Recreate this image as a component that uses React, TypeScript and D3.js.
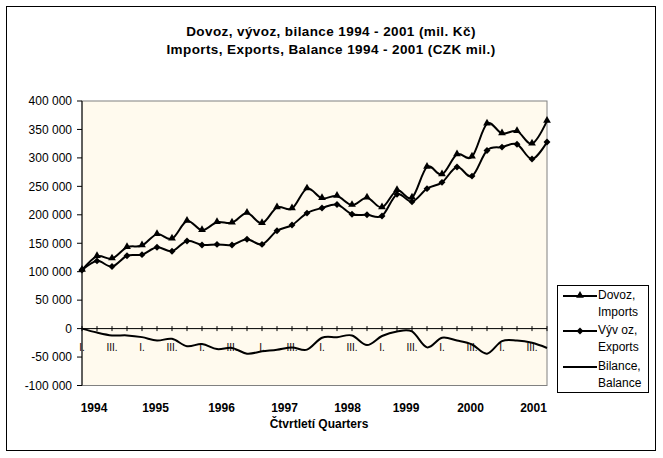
import * as d3 from 'd3';

// quarterly values, CZK mil. (1994 Q1 .. 2001 Q4)
const years = [1994, 1995, 1996, 1997, 1998, 1999, 2000, 2001];
const quarterNames = ['I.', 'II.', 'III.', 'IV.'];

const imports = [
  103000, 127000, 123000, 143000, 146000, 166000, 158000, 189000,
  173000, 187000, 186000, 203000, 185000, 213000, 211000, 246000,
  229000, 233000, 217000, 230000, 213000, 243000, 230000, 284000,
  271000, 306000, 302000, 360000, 343000, 347000, 325000, 365000,
];
const exports = [
  103000, 119000, 109000, 128000, 130000, 143000, 136000, 154000,
  147000, 148000, 147000, 157000, 148000, 172000, 182000, 203000,
  212000, 218000, 201000, 200000, 198000, 236000, 223000, 246000,
  257000, 284000, 268000, 313000, 319000, 324000, 298000, 328000,
];
const balance = [
  0, -7000, -12000, -12000, -15000, -21000, -18000, -31000,
  -27000, -36000, -34000, -44000, -40000, -37000, -33000, -37000,
  -16000, -15000, -12000, -29000, -13000, -5000, -5000, -33000,
  -16000, -21000, -28000, -44000, -22000, -21000, -25000, -34000,
];

const yTicks = [400000, 350000, 300000, 250000, 200000, 150000, 100000, 50000, 0, -50000, -100000];
// year captions were hand placed text boxes; position given in quarter index
const yearLabelAt = [0.8, 4.9, 9.3, 13.5, 17.7, 21.6, 25.9, 30.1];

const legendItems = [
  { lines: ['Dovoz,', 'Imports'], marker: 'triangle' },
  { lines: ['Výv oz,', 'Exports'], marker: 'diamond' },
  { lines: ['Bilance,', 'Balance'], marker: 'none' },
];

const font = '"Liberation Sans", Arial, sans-serif';

export default function App() {
  const width = 663;
  const height = 458;
  const plot = { left: 82, right: 547, top: 101, bottom: 385.5 };

  const categories = years.flatMap((y) => quarterNames.map((q) => `${y} ${q}`));

  const x = d3.scalePoint<string>().domain(categories).range([plot.left, plot.right]);
  const xi = d3.scaleLinear().domain([0, categories.length - 1]).range([plot.left, plot.right]);
  const y = d3.scaleLinear().domain([-100000, 400000]).range([plot.bottom, plot.top]);

  const fmt = (v: number) => d3.format(',')(v).replace(/,/g, ' ').replace('−', '-');

  const line = d3
    .line<number>()
    .curve(d3.curveCardinal.tension(0))
    .x((_, i) => x(categories[i]) ?? 0)
    .y((d) => y(d));

  const tri = d3.symbol(d3.symbolTriangle, 26)() ?? '';
  const dia = d3.symbol(d3.symbolSquare, 24)() ?? '';

  const marker = (kind: string, cx: number, cy: number, key: string | number) =>
    kind === 'triangle' ? (
      <path key={key} d={tri} transform={`translate(${cx},${cy - 0.5})`} fill="#000" />
    ) : kind === 'diamond' ? (
      <path key={key} d={dia} transform={`translate(${cx},${cy}) rotate(45)`} fill="#000" />
    ) : null;

  const legend = { x: 557, y: 285, w: 91, h: 107 };
  const rowY = [295, 312, 330, 347, 366, 383];

  return (
    <svg
      width={width}
      height={height}
      style={{ position: 'absolute', left: 0, top: 0, background: '#fff' }}
      fontFamily={font}
    >
      <rect x={6.5} y={6.5} width={649} height={444} fill="#fff" stroke="#000" />

      <text x={331} y={35.5} textAnchor="middle" fontWeight="bold" fontSize={13.5} letterSpacing={0.4}>
        Dovoz, vývoz, bilance 1994 - 2001 (mil. Kč)
      </text>
      <text x={331} y={53.5} textAnchor="middle" fontWeight="bold" fontSize={13.5} letterSpacing={0.4}>
        Imports, Exports, Balance 1994 - 2001 (CZK mil.)
      </text>

      {/* plot area */}
      <rect
        x={plot.left}
        y={plot.top}
        width={plot.right - plot.left}
        height={plot.bottom - plot.top}
        fill="#FFFAEE"
        stroke="#808080"
      />

      {/* y axis */}
      <line x1={plot.left} x2={plot.left} y1={plot.top} y2={plot.bottom} stroke="#000" />
      {yTicks.map((t) => (
        <g key={t}>
          <line x1={plot.left - 5} x2={plot.left} y1={y(t)} y2={y(t)} stroke="#000" />
          <text x={72} y={y(t)} dy="0.36em" textAnchor="end" fontSize={12}>
            {fmt(t)}
          </text>
        </g>
      ))}

      {/* category axis at zero */}
      <line x1={plot.left} x2={plot.right} y1={y(0)} y2={y(0)} stroke="#000" />
      {categories.map((c, i) => (
        <g key={c}>
          <line x1={x(c)} x2={x(c)} y1={y(0) - 2.5} y2={y(0) + 2.5} stroke="#000" />
          {i % 2 === 0 && (
            <text x={x(c)} y={y(0) + 22} textAnchor="middle" fontSize={10} fill="#000">
              {quarterNames[i % 4]}
            </text>
          )}
        </g>
      ))}

      {/* series */}
      <path d={line(balance) ?? ''} fill="none" stroke="#000" strokeWidth={2} />
      <path d={line(exports) ?? ''} fill="none" stroke="#000" strokeWidth={2} />
      <path d={line(imports) ?? ''} fill="none" stroke="#000" strokeWidth={2} />
      {imports.map((v, i) => marker('triangle', x(categories[i]) ?? 0, y(v), `i${i}`))}
      {exports.map((v, i) => marker('diamond', x(categories[i]) ?? 0, y(v), `e${i}`))}

      {/* year captions and axis title */}
      {years.map((yr, i) => (
        <text key={yr} x={xi(yearLabelAt[i])} y={412} textAnchor="middle" fontWeight="bold" fontSize={12}>
          {yr}
        </text>
      ))}
      <text x={319} y={428} textAnchor="middle" fontWeight="bold" fontSize={12}>
        Čtvrtletí Quarters
      </text>

      {/* legend */}
      <rect x={legend.x + 0.5} y={legend.y + 0.5} width={legend.w} height={legend.h} fill="#fff" stroke="#000" />
      {legendItems.map((item, k) => {
        const ly = rowY[k * 2];
        return (
          <g key={item.lines[0]}>
            <line x1={563} x2={597} y1={ly + 1} y2={ly + 1} stroke="#000" strokeWidth={2} />
            {marker(item.marker, 580, ly + 1, 'm')}
            {item.lines.map((t, j) => (
              <text key={t} x={598} y={rowY[k * 2 + j]} dy="0.36em" fontSize={12}>
                {t}
              </text>
            ))}
          </g>
        );
      })}
    </svg>
  );
}
